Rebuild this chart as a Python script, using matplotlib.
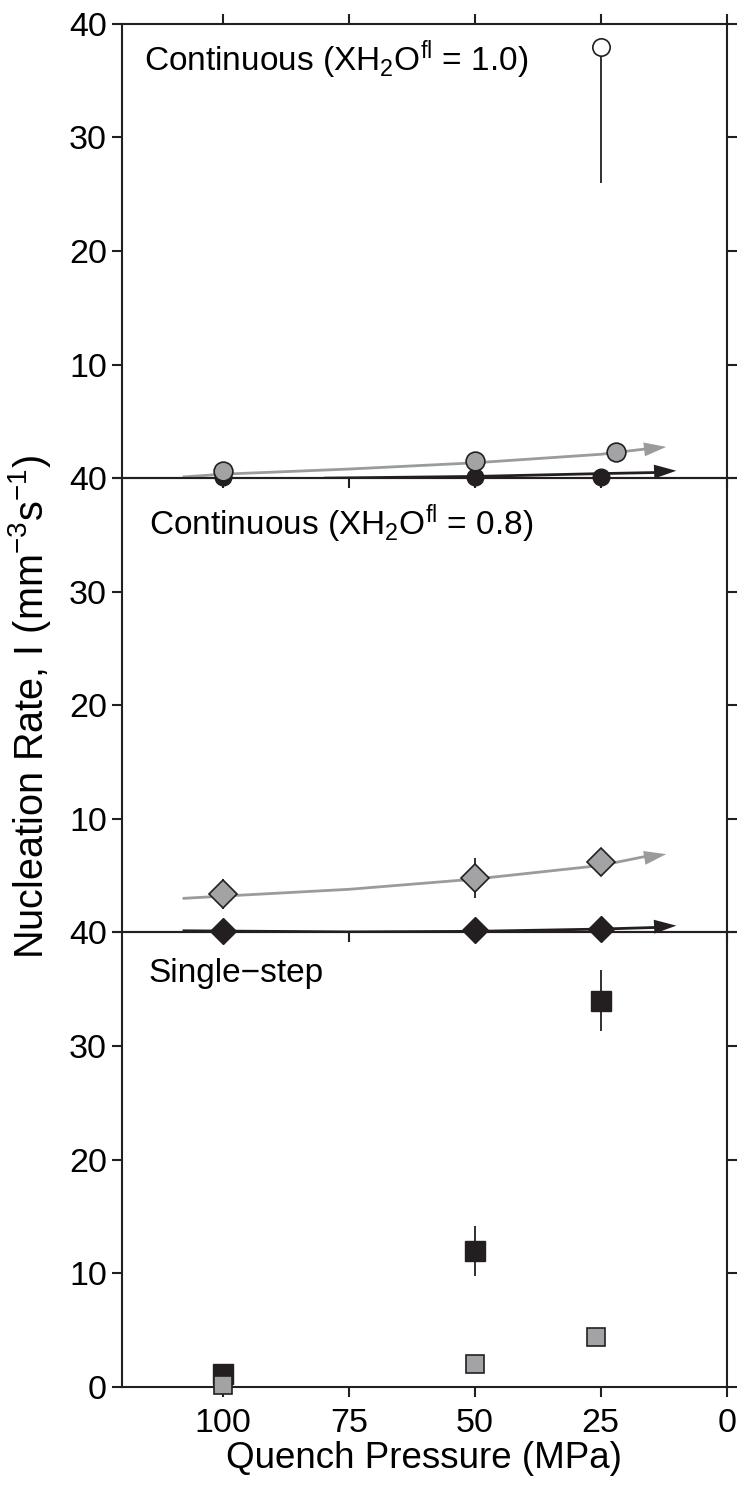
import matplotlib
matplotlib.use("Agg")
import matplotlib.pyplot as plt

plt.rcParams['font.family'] = ['Liberation Sans', 'DejaVu Sans']
plt.rcParams['mathtext.fontset'] = 'custom'
plt.rcParams['mathtext.rm'] = 'Liberation Sans'
plt.rcParams['mathtext.it'] = 'Liberation Sans:italic'
plt.rcParams['mathtext.default'] = 'regular'

BLACK = '#231f20'
GRAY = '#a3a3a5'
LGRAY = '#9b9b9b'

# Panel 1: continuous, XH2O = 1.0
p1_black_x = [100, 50, 25]
p1_black_y = [0.1, 0.1, 0.1]
p1_gray_x = [100, 50, 22]
p1_gray_y = [0.6, 1.5, 2.3]
p1_open_x = [25]
p1_open_y = [38.0]
p1_open_err_lo = [12.0]
p1_gray_curve_x = [108, 100, 75, 50, 25, 12]
p1_gray_curve_y = [0.1, 0.35, 0.8, 1.35, 2.1, 2.75]
p1_black_curve_x = [80, 50, 25, 10]
p1_black_curve_y = [0.0, 0.15, 0.4, 0.65]

# Panel 2: continuous, XH2O = 0.8
p2_gray_x = [100, 50, 25]
p2_gray_y = [3.4, 4.8, 6.2]
p2_gray_err = [1.3, 1.8, 1.0]
p2_black_x = [100, 50, 25]
p2_black_y = [0.1, 0.2, 0.35]
p2_gray_curve_x = [108, 100, 75, 50, 25, 12]
p2_gray_curve_y = [3.0, 3.2, 3.8, 4.7, 5.9, 6.9]
p2_black_curve_x = [108, 75, 50, 25, 10]
p2_black_curve_y = [0.15, 0.05, 0.1, 0.3, 0.6]

# Panel 3: single-step
p3_black_x = [100, 50, 25]
p3_black_y = [1.1, 12.0, 34.0]
p3_black_err = [0.0, 2.2, 2.7]
p3_gray_x = [100, 50, 26]
p3_gray_y = [0.2, 2.0, 4.4]

xticks = [100, 75, 50, 25, 0]
yticks = [0, 10, 20, 30, 40]

fig, axes = plt.subplots(3, 1, figsize=(7.4, 14.88), dpi=100, sharex=True)
fig.subplots_adjust(left=0.165, right=0.982, top=0.984, bottom=0.068, hspace=0)
ax1, ax2, ax3 = axes


def arrow_curve(ax, xs, ys, color):
    ax.plot(xs[:-1] + [xs[-1] + 3.5], ys[:-1] + [ys[-1] - 0.15], color=color, lw=2.0,
            zorder=2, solid_capstyle='butt')
    ax.annotate('', xy=(xs[-1], ys[-1]), xytext=(xs[-2], ys[-2]),
                arrowprops=dict(arrowstyle='-|>,head_length=1.6,head_width=0.5',
                                color=color, lw=0, shrinkA=0, shrinkB=0),
                zorder=3)


# panel 1
arrow_curve(ax1, p1_gray_curve_x, p1_gray_curve_y, LGRAY)
arrow_curve(ax1, p1_black_curve_x, p1_black_curve_y, BLACK)
ax1.plot(p1_black_x, p1_black_y, 'o', ms=12, mfc=BLACK, mec=BLACK, zorder=4, clip_on=False)
ax1.plot(p1_gray_x, p1_gray_y, 'o', ms=13.5, mfc=GRAY, mec=BLACK, mew=1.2, zorder=5,
         clip_on=False)
ax1.errorbar(p1_open_x, p1_open_y, yerr=[p1_open_err_lo, [0]], fmt='o', ms=12.5,
             mfc='white', mec=BLACK, mew=1.2, ecolor=BLACK, elinewidth=1.3, capsize=0,
             zorder=5)
ax1.text(0.036, 0.897, r'Continuous (XH$_2$O$^{\mathrm{fl}}$ = 1.0)', transform=ax1.transAxes,
         fontsize=24, va='baseline', ha='left')

# panel 2
arrow_curve(ax2, p2_gray_curve_x, p2_gray_curve_y, LGRAY)
arrow_curve(ax2, p2_black_curve_x, p2_black_curve_y, BLACK)
ax2.errorbar(p2_gray_x, p2_gray_y, yerr=p2_gray_err, fmt='D', ms=14, mfc=GRAY, mec=BLACK,
             mew=1.2, ecolor=BLACK, elinewidth=1.3, capsize=0, zorder=5)
ax2.plot(p2_black_x, p2_black_y, 'D', ms=13, mfc=BLACK, mec=BLACK, zorder=5, clip_on=False)
ax2.text(0.044, 0.875, r'Continuous (XH$_2$O$^{\mathrm{fl}}$ = 0.8)', transform=ax2.transAxes,
         fontsize=24, va='baseline', ha='left')

# panel 3
ax3.errorbar(p3_black_x, p3_black_y, yerr=p3_black_err, fmt='s', ms=14, mfc=BLACK, mec=BLACK,
             ecolor=BLACK, elinewidth=1.3, capsize=0, zorder=4, clip_on=False)
ax3.plot(p3_gray_x, p3_gray_y, 's', ms=13.5, mfc=GRAY, mec=BLACK, mew=1.2, zorder=5,
         clip_on=False)
ax3.text(0.044, 0.89, 'Single\u2212step', transform=ax3.transAxes,
         fontsize=24, va='baseline', ha='left')

for i, ax in enumerate(axes):
    ax.set_xlim(120, 0)
    ax.set_ylim(0, 40)
    ax.set_xticks(xticks)
    ax.set_yticks(yticks)
    ax.set_zorder(3 - i)
    ax.patch.set_visible(False)
    for s in ax.spines.values():
        s.set_linewidth(1.5)
        s.set_color(BLACK)
    ax.tick_params(axis='both', direction='out', length=7, width=1.5, color=BLACK,
                   labelsize=24.5, right=True, top=(i == 0), pad=4)
    ax.tick_params(axis='x', pad=8)
    if i < 2:
        ax.set_yticklabels(['', '10', '20', '30', '40'])

ax3.set_xticklabels([str(v) for v in xticks])
ax3.set_xlabel('Quench Pressure (MPa)', fontsize=26.5, labelpad=2)
fig.text(0.04, 0.525, r'Nucleation Rate, I (mm$^{-3}$s$^{-1}$)', rotation=90,
         fontsize=28.5, ha='center', va='center')

fig.savefig('out.png', dpi=100)
